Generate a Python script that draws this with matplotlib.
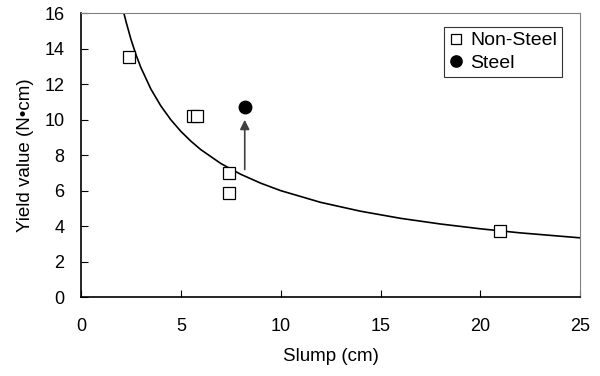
import matplotlib
matplotlib.use("Agg")
import matplotlib.pyplot as plt

plt.rcParams['font.family'] = ['Liberation Sans', 'DejaVu Sans']

# measured points
nonsteel_x = [2.4, 5.6, 5.8, 7.4, 7.4, 21.0]
nonsteel_y = [13.55, 10.2, 10.2, 7.0, 5.9, 3.72]
steel_x = [8.2]
steel_y = [10.7]

# trend curve
curve_x = [2.15, 2.25, 2.5, 2.75, 3, 3.5, 4, 4.5, 5, 5.5, 6, 7, 8, 9, 10,
           12, 14, 16, 18, 20, 22, 25]
curve_y = [16.0, 15.55, 14.54, 13.68, 12.94, 11.73, 10.78, 10.0, 9.35, 8.80,
           8.32, 7.54, 6.93, 6.43, 6.01, 5.35, 4.85, 4.45, 4.13, 3.86, 3.63, 3.35]

# arrow from non-steel to steel
arrow_x = 8.2
arrow_from = 7.2
arrow_to = 10.0

fig = plt.figure(figsize=(6, 3.76), dpi=100)
ax = fig.add_axes([0.135, 0.2093, 0.832, 0.7553])

ax.plot(curve_x, curve_y, color='black', lw=1.2, zorder=2)
ax.plot(nonsteel_x, nonsteel_y, 's', ms=8.5, mfc='white', mec='black', mew=0.9,
        ls='none', label='Non-Steel', zorder=3)
ax.plot(steel_x, steel_y, 'o', ms=9, color='black', ls='none', label='Steel', zorder=3)
ax.annotate('', xy=(arrow_x, arrow_to), xytext=(arrow_x, arrow_from),
            arrowprops=dict(arrowstyle='-|>', color='#404040', lw=1.2,
                            mutation_scale=14, shrinkA=0, shrinkB=0))

ax.set_xlim(0, 25)
ax.set_ylim(0, 16)
ax.set_xticks(range(0, 26, 5))
ax.set_yticks(range(0, 17, 2))
ax.tick_params(direction='in', length=5, labelsize=13, color='black')
ax.tick_params(axis='x', pad=15)
ax.tick_params(axis='y', pad=12)
ax.set_xlabel('Slump (cm)', fontsize=13.5, labelpad=9)
ax.set_ylabel('Yield value (N•cm)', fontsize=13.5, labelpad=7)

for s in ['top', 'right']:
    ax.spines[s].set_color('#808080')
for s in ['left', 'bottom']:
    ax.spines[s].set_color('black')
    ax.spines[s].set_linewidth(1.2)

leg = ax.legend(loc='upper right', bbox_to_anchor=(0.964, 0.952), fontsize=14,
                frameon=True, fancybox=False, edgecolor='black', handlelength=0.7,
                handletextpad=0.4, borderpad=0.25, labelspacing=0.25, borderaxespad=0,
                markerscale=0.9)
leg.get_frame().set_linewidth(0.8)

fig.savefig('out.png', dpi=100)
